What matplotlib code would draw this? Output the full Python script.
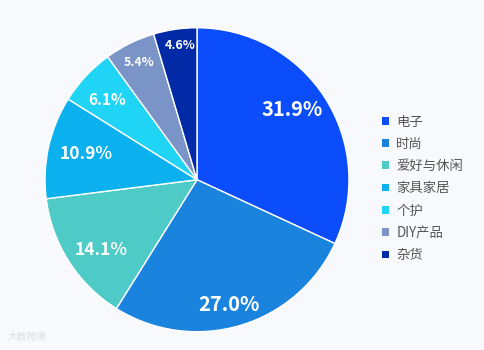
import matplotlib
matplotlib.use("Agg")
import matplotlib.pyplot as plt
from matplotlib.patches import Patch
import numpy as np

plt.rcParams['font.family'] = ['Noto Sans CJK SC', 'DejaVu Sans']

categories = ["电子", "时尚", "爱好与休闲", "家具家居", "个护", "DIY产品", "杂货"]
values = [31.9, 27.0, 14.1, 10.9, 6.1, 5.4, 4.6]
colors = ["#0b4dfb", "#1a83de", "#4ecbc6", "#0bb0ee", "#1fd4f4", "#7b94c8", "#0229a6"]
label_sizes = [14.5, 14.5, 12.5, 12.5, 11, 9, 9]
label_dist = [0.78, 0.85, 0.78, 0.75, 0.79, 0.86, 0.89]
label_ang_off = [3.8, -2.2, 3.5, -0.8, 1.4, 0.0, -1.1]

fig = plt.figure(figsize=(4.84, 3.5), dpi=100, facecolor="#f8f9fd")
ax = fig.add_axes([0.093, 0.052, 0.628, 0.869])
ax.set_facecolor("#f8f9fd")

wedges, _ = ax.pie(values, colors=colors, startangle=90, counterclock=False,
                   wedgeprops=dict(edgecolor="white", linewidth=1.0))
for w, v, s, d, o in zip(wedges, values, label_sizes, label_dist, label_ang_off):
    ang = np.deg2rad((w.theta1 + w.theta2) / 2 + o)
    ax.text(d * np.cos(ang), d * np.sin(ang), f"{v:.1f}%", ha="center", va="center",
            color="white", fontsize=s, fontweight="bold")
ax.set_aspect("equal")
ax.set_xlim(-1, 1)
ax.set_ylim(-1, 1)

handles = [Patch(facecolor=c, edgecolor="none") for c in colors]
fig.legend(handles, categories, loc="center left", bbox_to_anchor=(0.765, 0.462),
           frameon=False, fontsize=9.6, labelcolor="#555555", handlelength=0.5,
           handleheight=0.5, handletextpad=0.55, labelspacing=0.62)

fig.text(0.015, 0.03, "大数跨境", color="#dddddd", fontsize=7)

fig.savefig("out.png", dpi=100, facecolor=fig.get_facecolor())
